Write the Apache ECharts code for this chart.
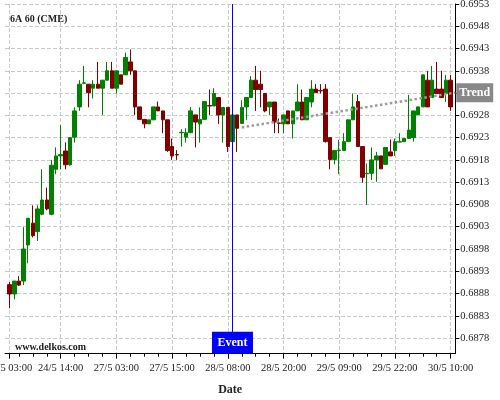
<!DOCTYPE html>
<html><head><meta charset="utf-8">
<script src="https://cdn.jsdelivr.net/npm/echarts@6/dist/echarts.min.js"></script>
<style>html,body{margin:0;padding:0;background:#fff}#c{width:500px;height:400px}</style>
</head><body><div id="c"></div>
<script>
// x-axis tick labels and the candle index they sit on
const tickLabels = ['24/5 03:00','24/5 14:00','27/5 03:00','27/5 15:00','28/5 08:00','28/5 20:00','29/5 09:00','29/5 22:00','30/5 10:00'];
const tickIdx = [0, 11, 23, 35, 47, 59, 71, 83, 95];

// hourly OHLC (6A, CME)
const open = [
0.68900,0.68879,0.68908,0.68908,0.68989,0.69038,0.69019,0.69058,0.69090,0.69058,
0.69159,0.69189,0.69200,0.69169,0.69231,0.69299,0.69352,0.69350,0.69341,0.69350,
0.69341,0.69359,0.69380,0.69341,0.69371,0.69371,0.69400,0.69380,0.69299,0.69271,
0.69261,0.69270,0.69299,0.69290,0.69270,0.69210,0.69192,0.69241,0.69231,0.69241,
0.69281,0.69261,0.69271,0.69302,0.69301,0.69320,0.69281,0.69298,0.69221,0.69281,
0.69262,0.69299,0.69320,0.69359,0.69350,0.69329,0.69299,0.69310,0.69263,0.69261,
0.69290,0.69261,0.69290,0.69310,0.69270,0.69310,0.69339,0.69336,0.69339,0.69230,
0.69181,0.69201,0.69201,0.69221,0.69270,0.69311,0.69210,0.69149,0.69150,0.69180,
0.69189,0.69170,0.69198,0.69201,0.69220,0.69221,0.69228,0.69230,0.69281,0.69299,
0.69359,0.69320,0.69339,0.69339,0.69329,0.69359];
const close = [
0.68879,0.68908,0.68899,0.68980,0.69049,0.69010,0.69070,0.69090,0.69070,0.69168,
0.69189,0.69192,0.69169,0.69230,0.69290,0.69350,0.69353,0.69331,0.69350,0.69341,
0.69359,0.69380,0.69341,0.69380,0.69350,0.69410,0.69380,0.69299,0.69271,0.69261,
0.69270,0.69299,0.69290,0.69270,0.69201,0.69189,0.69191,0.69242,0.69241,0.69290,
0.69265,0.69271,0.69311,0.69301,0.69329,0.69281,0.69298,0.69210,0.69281,0.69251,
0.69298,0.69320,0.69359,0.69338,0.69338,0.69290,0.69310,0.69265,0.69262,0.69281,
0.69261,0.69290,0.69310,0.69270,0.69320,0.69339,0.69331,0.69335,0.69221,0.69181,
0.69201,0.69202,0.69221,0.69270,0.69299,0.69210,0.69141,0.69150,0.69180,0.69189,
0.69160,0.69208,0.69189,0.69221,0.69221,0.69228,0.69247,0.69290,0.69299,0.69371,
0.69299,0.69359,0.69329,0.69320,0.69359,0.69299];
const low = [
0.68847,0.68867,0.68897,0.68899,0.68948,0.69006,0.68998,0.69056,0.69067,0.69056,
0.69148,0.69159,0.69159,0.69167,0.69219,0.69290,0.69350,0.69298,0.69318,0.69341,
0.69281,0.69359,0.69341,0.69329,0.69350,0.69371,0.69371,0.69281,0.69271,0.69251,
0.69261,0.69270,0.69290,0.69240,0.69198,0.69180,0.69180,0.69210,0.69219,0.69241,
0.69208,0.69219,0.69271,0.69281,0.69301,0.69261,0.69219,0.69198,0.69221,0.69198,
0.69262,0.69270,0.69320,0.69290,0.69298,0.69287,0.69281,0.69240,0.69240,0.69240,
0.69261,0.69228,0.69290,0.69270,0.69270,0.69298,0.69331,0.69329,0.69219,0.69159,
0.69170,0.69148,0.69201,0.69221,0.69270,0.69210,0.69129,0.69079,0.69135,0.69131,
0.69160,0.69170,0.69189,0.69189,0.69220,0.69221,0.69228,0.69221,0.69281,0.69299,
0.69299,0.69320,0.69329,0.69320,0.69310,0.69290];
const high = [
0.68906,0.68908,0.68919,0.69029,0.69049,0.69078,0.69078,0.69159,0.69118,0.69180,
0.69208,0.69258,0.69219,0.69231,0.69298,0.69359,0.69391,0.69350,0.69359,0.69400,
0.69359,0.69400,0.69400,0.69380,0.69371,0.69421,0.69428,0.69380,0.69299,0.69271,
0.69270,0.69299,0.69311,0.69290,0.69270,0.69228,0.69202,0.69249,0.69251,0.69299,
0.69281,0.69298,0.69311,0.69338,0.69341,0.69320,0.69298,0.69298,0.69281,0.69281,
0.69314,0.69320,0.69368,0.69391,0.69380,0.69329,0.69310,0.69310,0.69273,0.69281,
0.69290,0.69290,0.69350,0.69338,0.69320,0.69359,0.69350,0.69350,0.69350,0.69230,
0.69201,0.69225,0.69240,0.69270,0.69329,0.69326,0.69210,0.69172,0.69208,0.69198,
0.69189,0.69208,0.69226,0.69228,0.69240,0.69228,0.69326,0.69290,0.69299,0.69371,
0.69380,0.69391,0.69400,0.69380,0.69371,0.69371];

// y-axis tick labels
const yTicks = [0.6878,0.6883,0.6888,0.6893,0.6898,0.6903,0.6908,0.6913,0.6918,0.6923,0.6928,0.6933,0.6938,0.6943,0.6948,0.6953];
const yMin = 0.68745, yMax = 0.6953;

// trend line (candle index, price) and event candle
const trendIdx = [50, 96];
const trendVal = [0.69253, 0.69331];
const eventIdx = 48;

const SERIF = "'Liberation Serif','Times New Roman','DejaVu Serif',serif";
const N = open.length;

// category names: one per candle, plus an empty slot at each end
function candleName(i) {
  let k = 0;
  while (k + 1 < tickIdx.length && tickIdx[k + 1] <= i) k++;
  const parts = tickLabels[k].split(' ');
  const h = parseInt(parts[1], 10) + (i - tickIdx[k]);
  return parts[0] + ' ' + String(h).padStart(2, '0') + ':00';
}
const cats = ['start'];
for (let i = 0; i < N; i++) cats.push(candleName(i));
cats.push('end');
const catOf = i => cats[i + 1];
const majorSet = new Set(tickIdx.map(i => i + 1));

const rows = [];
for (let i = 0; i < N; i++) rows.push([catOf(i), open[i], close[i], low[i], high[i]]);

const trendData = trendIdx.map((ix, k) => [catOf(ix), trendVal[k]]);

const chart = echarts.init(document.getElementById('c'), null, {renderer: 'canvas'});
chart.setOption({
  animation: false,
  backgroundColor: '#fff',
  textStyle: {fontFamily: SERIF},
  title: [
    {text: '6A 60 (CME)', left: 10, top: 14, padding: 0,
     textStyle: {fontFamily: SERIF, fontSize: 10, fontWeight: 'bold', color: '#222'}},
    {text: 'www.delkos.com', left: 15, top: 342, padding: 0,
     textStyle: {fontFamily: SERIF, fontSize: 10, fontWeight: 'bold', color: '#222'}}
  ],
  grid: {left: 5, right: 44.7, top: 4, bottom: 46.3, containLabel: false, outerBoundsMode: 'none'},
  xAxis: [{
    type: 'category', data: cats, boundaryGap: false,
    axisLine: {onZero: false, lineStyle: {color: '#000', width: 1}},
    axisTick: {show: true, interval: i => majorSet.has(i), length: 5, lineStyle: {color: '#000'}},
    axisLabel: {interval: i => majorSet.has(i), margin: 9, color: '#222', fontSize: 10.5, fontFamily: SERIF},
    splitLine: {show: true, interval: i => majorSet.has(i), lineStyle: {color: '#c8c8c8', type: 'dashed', width: 1}},
    name: 'Date', nameLocation: 'middle', nameGap: 30,
    nameTextStyle: {fontFamily: SERIF, fontSize: 12, fontWeight: 'bold', color: '#222'}
  }, {
    type: 'category', data: cats, boundaryGap: false, position: 'bottom',
    axisLine: {show: false},
    axisTick: {show: true, interval: i => i > 0 && i % 3 === 0 && !majorSet.has(i), length: 3, lineStyle: {color: '#000'}},
    axisLabel: {show: false}, splitLine: {show: false}
  }],
  yAxis: [{
    type: 'value', position: 'right', min: yMin, max: yMax, scale: true,
    axisLine: {show: true, onZero: false, lineStyle: {color: '#000', width: 1}},
    axisTick: {show: true, customValues: yTicks, length: 4, lineStyle: {color: '#000'}},
    axisLabel: {customValues: yTicks, formatter: v => v.toFixed(4), margin: 5, color: '#222',
                fontSize: 10.5, fontFamily: SERIF, padding: [4, 0, 0, 0]},
    splitLine: {show: true, lineStyle: {color: '#c8c8c8', type: 'dashed', width: 1}}
  }],
  series: [{
    type: 'candlestick',
    dimensions: ['t', 'open', 'close', 'lowest', 'highest'],
    encode: {x: 't', y: ['open', 'close', 'lowest', 'highest']},
    data: rows,
    barWidth: 4,
    itemStyle: {color: '#008000', color0: '#800000', borderColor: '#008000', borderColor0: '#800000', borderWidth: 1},
    markLine: {
      silent: true, symbol: ['none', 'none'], label: {show: false},
      lineStyle: {color: '#0000ff', width: 1, type: 'solid'},
      data: [{xAxis: catOf(eventIdx)}]
    },
    markPoint: {
      silent: true,
      data: [{coord: [catOf(eventIdx), yMin], symbol: 'rect', symbolSize: [41, 22], symbolOffset: [0, -11],
              itemStyle: {color: '#0000ff'},
              label: {show: true, position: 'inside', formatter: 'Event', color: '#fff', fontSize: 12,
                      fontWeight: 'bold', fontFamily: SERIF}}]
    }
  }, {
    type: 'line', data: trendData, symbol: 'none', z: 3,
    lineStyle: {color: '#9a9a9a', width: 2.5, type: 'dotted'},
    endLabel: {show: true, formatter: 'Trend', distance: 1, backgroundColor: '#888', color: '#fff',
               fontSize: 12, fontWeight: 'bold', fontFamily: SERIF, padding: [4, 3, 3, 3]}
  }]
});
</script>
</body></html>
